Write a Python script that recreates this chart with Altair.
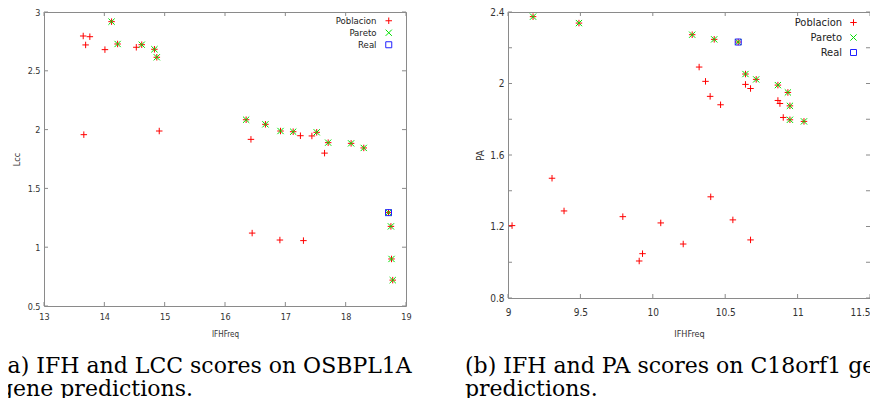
import altair as alt
import pandas as pd

# ---------------- panel (a): IFHFreq vs Lcc ----------------
a_pob_x = [13.65, 13.69, 13.76, 14.01, 14.53, 13.66, 14.91, 16.43, 16.45, 16.91, 17.30, 17.25, 17.44, 17.65]
a_pob_y = [2.796, 2.72, 2.79, 2.68, 2.70, 1.957, 1.988, 1.917, 1.12, 1.061, 1.056, 1.948, 1.946, 1.80]
a_par_x = [14.12, 14.22, 14.62, 14.83, 14.87, 16.35, 16.67, 16.92, 17.13, 17.52, 17.71, 18.09, 18.30, 18.71, 18.75, 18.76, 18.78]
a_par_y = [2.918, 2.728, 2.722, 2.683, 2.615, 2.084, 2.045, 1.988, 1.982, 1.977, 1.889, 1.883, 1.844, 1.294, 1.177, 0.90, 0.72]
a_real_x = [18.71]
a_real_y = [1.294]
a_xticks = [13, 14, 15, 16, 17, 18, 19]
a_yticks = [0.5, 1, 1.5, 2, 2.5, 3]

# ---------------- panel (b): IFHFreq vs PA ----------------
b_pob_x = [9.028, 9.304, 9.387, 9.793, 9.906, 9.929, 10.055, 10.21, 10.40, 10.553, 10.675,
           10.32, 10.364, 10.396, 10.468, 10.64, 10.675, 10.864, 10.878, 10.901]
b_pob_y = [1.205, 1.470, 1.287, 1.255, 1.007, 1.048, 1.220, 1.102, 1.366, 1.237, 1.125,
           2.092, 2.012, 1.928, 1.881, 1.995, 1.972, 1.905, 1.888, 1.81]
b_par_x = [9.173, 9.49, 10.272, 10.424, 10.59, 10.64, 10.714, 10.864, 10.933, 10.947, 10.947, 11.044]
b_par_y = [2.374, 2.338, 2.273, 2.247, 2.232, 2.053, 2.023, 1.991, 1.95, 1.875, 1.797, 1.788]
b_real_x = [10.59]
b_real_y = [2.232]
b_xticks = [9, 9.5, 10, 10.5, 11, 11.5]
b_yticks = [0.8, 1, 1.2, 1.4, 1.6, 1.8, 2, 2.2, 2.4]

series = ["Poblacion", "Pareto", "Real"]
colors = ["#ff0000", "#00e000", "#2020ff"]
shapes = ["M-1,0L1,0M0,-1L0,1", "M-1,-1L1,1M-1,1L1,-1", "square"]
sizes = [42, 36, 30]

caption_a = ["(a) IFH and LCC scores on OSBPL1A", "gene predictions."]
caption_b = ["(b) IFH and PA scores on C18orf1 genes", "predictions."]

SANS = "DejaVu Sans Condensed, Liberation Sans Narrow, Roboto Condensed, DejaVu Sans, sans-serif"
SERIF = "DejaVu Serif, Liberation Serif, serif"
GRAY = "#8a8a8a"


def points_df(pob_x, pob_y, par_x, par_y, real_x, real_y):
    rows = []
    # Pareto points are members of the population too: drawn with a red + underneath
    for x, y in zip(pob_x + par_x, pob_y + par_y):
        rows.append({"x": x, "y": y, "serie": "Poblacion"})
    for x, y in zip(par_x, par_y):
        rows.append({"x": x, "y": y, "serie": "Pareto"})
    for x, y in zip(real_x, real_y):
        rows.append({"x": x, "y": y, "serie": "Real"})
    df = pd.DataFrame(rows)
    df["order"] = range(len(df))
    return df


def panel(df, xdom, ydom, xticks, yticks, ytitle, w, h, fs, lab_pad_x, x_title_y,
          leg_x, leg_y, leg_fs, leg_rowpad, caption, cap_dx, cap_offset, last_right=False):
    xs = alt.Scale(domain=xdom, nice=False, zero=False)
    ys = alt.Scale(domain=ydom, nice=False, zero=False)
    xlab_align = "center"
    if last_right:
        xlab_align = {"condition": {"test": f"datum.value >= {xticks[-1]}", "value": "right"},
                      "value": "center"}
    xaxis = alt.Axis(values=xticks, format="~g", labelFontSize=fs, labelPadding=lab_pad_x,
                     labelOverlap=False, labelFlush=False, labelAlign=xlab_align,
                     title="IFHFreq", titleFontSize=fs - 1, titleX=w / 2, titleY=x_title_y,
                     titleBaseline="middle", titleAnchor="middle")
    yaxis = alt.Axis(values=yticks, format="~g", labelFontSize=fs, labelPadding=4,
                     labelOverlap=False, labelFlush=False,
                     title=ytitle, titleFontSize=fs, titleX=-28, titleY=h / 2,
                     titleBaseline="middle", titleAnchor="middle", titleAngle=270)
    leg = alt.Legend(orient="none", legendX=leg_x, legendY=leg_y, title=None,
                     labelAlign="right", labelOffset={"expr": "-17"}, labelFontSize=leg_fs,
                     labelFont=SANS, labelColor="#222222", symbolSize=40,
                     symbolStrokeWidth=1, rowPadding=leg_rowpad, padding=0)

    xt = pd.DataFrame({"x": xticks})
    yt = pd.DataFrame({"y": yticks})
    tb = alt.Chart(xt).mark_rule(color=GRAY, strokeWidth=1).encode(
        x=alt.X("x:Q", scale=xs), y=alt.value(h), y2=alt.value(h - 4))
    tt = alt.Chart(xt).mark_rule(color=GRAY, strokeWidth=1).encode(
        x=alt.X("x:Q", scale=xs), y=alt.value(0), y2=alt.value(4))
    tl = alt.Chart(yt).mark_rule(color=GRAY, strokeWidth=1).encode(
        y=alt.Y("y:Q", scale=ys), x=alt.value(0), x2=alt.value(4))
    tr = alt.Chart(yt).mark_rule(color=GRAY, strokeWidth=1).encode(
        y=alt.Y("y:Q", scale=ys), x=alt.value(w - 4), x2=alt.value(w))

    pts = alt.Chart(df).mark_point(filled=False, strokeWidth=1, opacity=1).encode(
        x=alt.X("x:Q", scale=xs, axis=xaxis),
        y=alt.Y("y:Q", scale=ys, axis=yaxis),
        color=alt.Color("serie:N", scale=alt.Scale(domain=series, range=colors), legend=leg),
        shape=alt.Shape("serie:N", scale=alt.Scale(domain=series, range=shapes), legend=leg),
        size=alt.Size("serie:N", scale=alt.Scale(domain=series, range=sizes), legend=None),
        order=alt.Order("order:Q"),
    )
    return alt.layer(tb, tt, tl, tr, pts).properties(
        width=w, height=h,
        title=alt.TitleParams(text=caption, orient="bottom", anchor="start", frame="group",
                              dx=cap_dx, offset=cap_offset, font=SERIF, fontSize=22,
                              fontWeight="normal", color="#000000", lineHeight=23,
                              baseline="top"),
    )


left = panel(points_df(a_pob_x, a_pob_y, a_par_x, a_par_y, a_real_x, a_real_y),
             [13, 19], [0.5, 3], a_xticks, a_yticks, "Lcc", 362, 294, 9, 6, 28,
             340, 4, 9.5, 1, caption_a, -45, 18)
right = panel(points_df(b_pob_x, b_pob_y, b_par_x, b_par_y, b_real_x, b_real_y),
              [9, 11.5], [0.8, 2.4], b_xticks, b_yticks, "PA", 362, 286, 10, 9, 35,
              340, 5, 11, 3, caption_b, -43, 18, last_right=True)

chart = alt.hconcat(left, right, spacing=102, bounds="flush").resolve_scale(
    color="independent", shape="independent", size="independent"
).resolve_legend(color="independent", shape="independent").properties(
    autosize=alt.AutoSizeParams(type="none"),
    padding={"left": 36, "top": 4, "right": 826, "bottom": 386},
).configure_view(stroke=GRAY, strokeWidth=1).configure_axis(
    domain=False, ticks=False, grid=False, labelFont=SANS, titleFont=SANS,
    labelColor="#333333", titleColor="#333333", titleFontWeight="normal",
)

chart.save("out.html", embed_options={"renderer": "svg", "actions": False})
